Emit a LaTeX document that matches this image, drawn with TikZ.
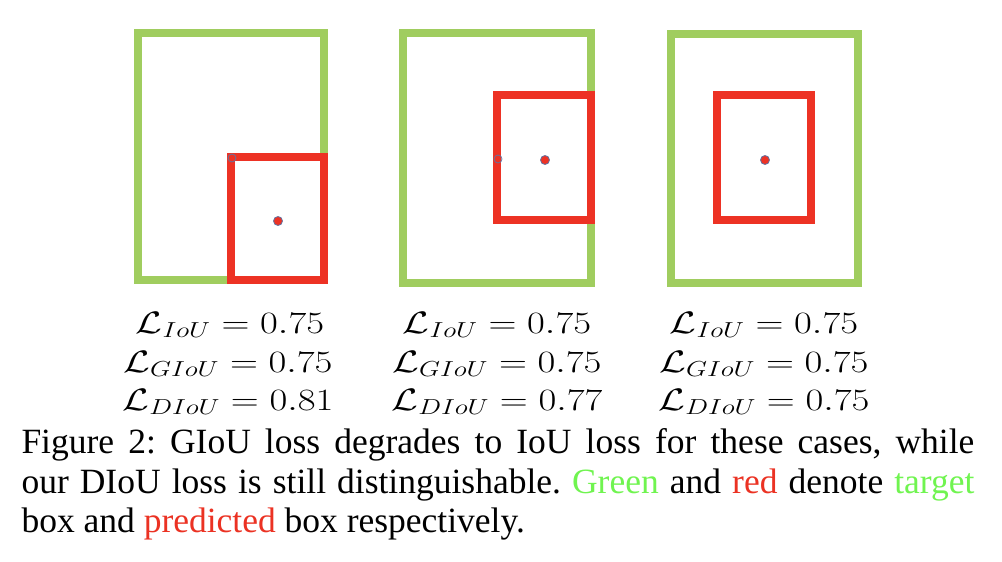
\RequirePackage{fix-cm}
\documentclass[tikz,border=0pt]{standalone}
\usepackage[no-math]{fontspec}
\setmainfont{Liberation Serif}
\definecolor{boxgreen}{RGB}{160,205,95}
\definecolor{boxred}{RGB}{237,50,36}
\definecolor{dotblue}{RGB}{100,115,160}
\definecolor{textgreen}{RGB}{112,244,80}
\definecolor{textred}{RGB}{235,50,35}

\begin{document}
\begin{tikzpicture}[x=1pt,y=-1pt,
  target/.style={draw=boxgreen,line width=8pt},
  predicted/.style={draw=boxred,line width=8pt},
  centre/.style={fill=boxred,draw=dotblue,line width=0.8pt},
  gcentre/.style={draw=dotblue,line width=0.8pt},
  loss/.style={anchor=base,inner sep=0pt,xscale=1.25,font=\fontsize{31}{37}\selectfont}]
\useasboundingbox (0,0) rectangle (1002,562);

% left case
\draw[target] (138,33) rectangle (324,280);
\draw[predicted] (231,157) rectangle (324,280);
\draw[gcentre] (232,158) circle (4);
\filldraw[centre] (278,221) circle (4.5);

% middle case
\draw[target] (403,33) rectangle (591,283);
\draw[predicted] (497,95) rectangle (591,220);
\draw[gcentre] (498,159) circle (4);
\filldraw[centre] (545,160) circle (4.5);

% right case
\draw[target] (671,34) rectangle (858,283);
\draw[predicted] (717,95) rectangle (811,220);
\filldraw[centre] (765,160) circle (4.5);

\node[loss] (iouA) at (230,333) {$\mathcal{L}_{IoU} = 0.75$};
\node[loss] (giouA) at (228,372) {$\mathcal{L}_{GIoU} = 0.75$};
\node[loss] (diouA) at (228,410) {$\mathcal{L}_{DIoU} = 0.81$};

\node[loss] (iouB) at (497,333) {$\mathcal{L}_{IoU} = 0.75$};
\node[loss] (giouB) at (497,372) {$\mathcal{L}_{GIoU} = 0.75$};
\node[loss] (diouB) at (497,410) {$\mathcal{L}_{DIoU} = 0.77$};

\node[loss] (iouC) at (764,333) {$\mathcal{L}_{IoU} = 0.75$};
\node[loss] (giouC) at (764,372) {$\mathcal{L}_{GIoU} = 0.75$};
\node[loss] (diouC) at (764,410) {$\mathcal{L}_{DIoU} = 0.75$};

\node[anchor=north west,inner sep=0pt,text width=953pt,align=justify,
  font=\fontsize{35.5}{39.5}\selectfont\frenchspacing] (caption) at (21.3,428.5)
  {Figure 2: GIoU loss degrades to IoU loss for these cases, while\linebreak
   our DIoU loss is still distinguishable. \textcolor{textgreen}{Green} and
   \textcolor{textred}{red} denote \textcolor{textgreen}{target}\linebreak
   box and \textcolor{textred}{predicted} box respectively.};

\end{tikzpicture}
\end{document}
